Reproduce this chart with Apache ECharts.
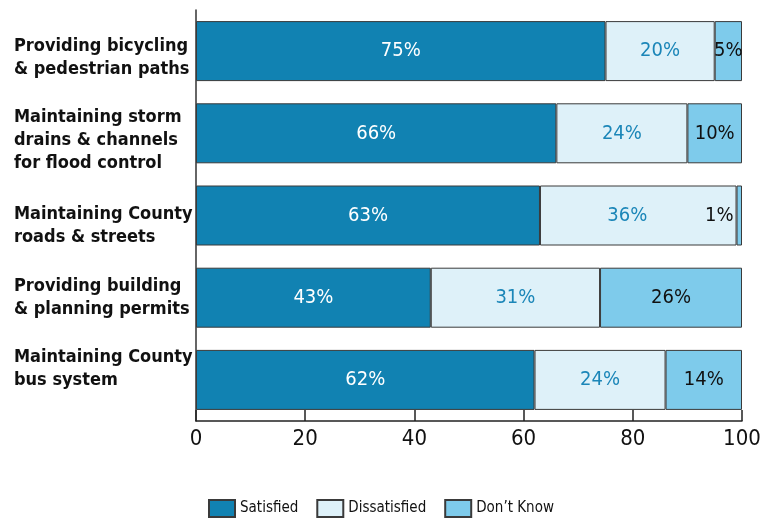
<!DOCTYPE html>
<html>
<head>
<meta charset="utf-8">
<script src="https://cdn.jsdelivr.net/npm/echarts@6/dist/echarts.min.js"></script>
<style>
  html, body { margin: 0; padding: 0; background: #fff; }
  #chart { width: 772px; height: 519px; }
</style>
</head>
<body>
<div id="chart"></div>
<script>
// Services rated by residents (percent of respondents)
const categories = [
  'Providing bicycling\n& pedestrian paths',
  'Maintaining storm\ndrains & channels\nfor flood control',
  'Maintaining County\nroads & streets',
  'Providing building\n& planning permits',
  'Maintaining County\nbus system'
];
const satisfied = [75, 66, 63, 43, 62];
const dissatisfied = [20, 24, 36, 31, 24];
const dontKnow = [5, 10, 1, 26, 14];
const xTicks = [0, 20, 40, 60, 80, 100];

// vertical nudge (px) of each category label relative to its bar centre
const labelShift = [14, 14, 20, 0, -22];

const FONT = '"Liberation Sans Narrow", "DejaVu Sans Condensed", sans-serif';

const chart = echarts.init(document.getElementById('chart'));

function barSeries(name, data, fill, labelColor) {
  return {
    name: name,
    type: 'bar',
    stack: 'total',
    barWidth: 60,
    data: data,
    itemStyle: { color: fill, borderColor: '#3a3a3a', borderWidth: 1 },
    label: {
      show: true,
      position: 'inside',
      formatter: '{c}%',
      color: labelColor,
      fontFamily: FONT,
      fontSize: 20
    },
    emphasis: { disabled: true }
  };
}

// rich-text spacer lines shift the multi-line labels off centre
const rich = { t: { fontFamily: FONT, fontWeight: 'bold', fontSize: 18, lineHeight: 23, color: '#111' } };
labelShift.forEach(function (s, i) {
  rich['s' + i] = { fontSize: 1, lineHeight: Math.abs(s) };
});

function categoryLabel(value, index) {
  const lines = value.split('\n').map(function (l) { return '{t|' + l + '}'; });
  const s = labelShift[index];
  if (s > 0) lines.unshift('{s' + index + '| }');
  if (s < 0) lines.push('{s' + index + '| }');
  return lines.join('\n');
}

chart.setOption({
  animation: false,
  grid: { left: 196, right: 30, top: 10, bottom: 98, containLabel: false },
  legend: {
    top: 494,
    left: 203,
    icon: 'rect',
    itemWidth: 26,
    itemHeight: 17,
    itemGap: 18,
    textStyle: { fontFamily: FONT, fontSize: 15, color: '#111' },
    data: ['Satisfied', 'Dissatisfied', 'Don\u2019t Know']
  },
  xAxis: {
    type: 'value',
    min: xTicks[0],
    max: xTicks[xTicks.length - 1],
    interval: xTicks[1] - xTicks[0],
    axisLine: { show: true, lineStyle: { color: '#222', width: 1.5 } },
    axisTick: { show: true, inside: true, length: 11, lineStyle: { color: '#222', width: 1.5 } },
    axisLabel: { color: '#111', fontFamily: FONT, fontSize: 22, margin: 7 },
    splitLine: { show: false }
  },
  yAxis: {
    type: 'category',
    inverse: true,
    data: categories,
    axisLine: { show: true, lineStyle: { color: '#333', width: 1.5 } },
    axisTick: { show: false },
    axisLabel: {
      align: 'left',
      margin: 182,
      formatter: categoryLabel,
      rich: rich
    }
  },
  series: [
    barSeries('Satisfied', satisfied, '#1182b2', '#ffffff'),
    barSeries('Dissatisfied', dissatisfied.map(function (v, i) {
      // keep clear of a neighbouring label that sits outside a very thin bar
      return dontKnow[i] < 3 ? { value: v, label: { offset: [-11, 0] } } : v;
    }), '#def1f9', '#1b86b8'),
    barSeries('Don\u2019t Know', dontKnow.map(function (v) {
      return v < 3 ? { value: v, label: { position: 'left', distance: 3 } } : v;
    }), '#7ecbeb', '#111111')
  ]
});
</script>
</body>
</html>
